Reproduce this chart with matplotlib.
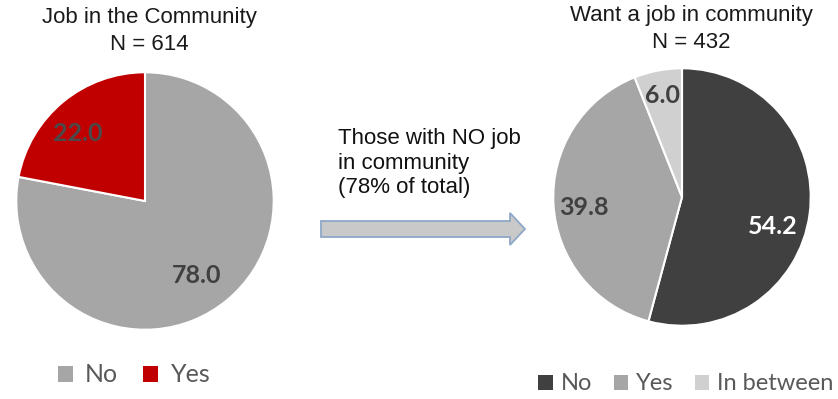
import matplotlib.pyplot as plt
import numpy as np
from matplotlib.patches import FancyArrow

# data
left_labels = ["No", "Yes"]
left_values = [78.0, 22.0]
right_labels = ["No", "Yes", "In between"]
right_values = [54.2, 39.8, 6.0]

# styling
left_colors = ["#A6A6A6", "#C00000"]
left_text_colors = ["#404040", "#4A4A4A"]
left_label_pos = [(0.70, -5), (0.74, 5)]  # (radius, angle offset deg)

right_colors = ["#404040", "#A6A6A6", "#D0D0D0"]
right_text_colors = ["#FFFFFF", "#404040", "#404040"]
right_label_pos = [(0.74, -10.5), (0.77, 3), (0.8, 0)]

W, H = 838, 399
fig = plt.figure(figsize=(W / 100, H / 100), dpi=100)


def px_axes(cx, cy, r):
    return fig.add_axes([(cx - r) / W, (H - cy - r) / H, 2 * r / W, 2 * r / H])


def draw_pie(ax, values, colors, text_colors, label_pos):
    wedges, _ = ax.pie(values, colors=colors, startangle=90, counterclock=False,
                       wedgeprops=dict(edgecolor="white", linewidth=1.5), radius=1)
    for w, v, tc, (d, off) in zip(wedges, values, text_colors, label_pos):
        ang = np.deg2rad((w.theta1 + w.theta2) / 2 + off)
        ax.text(d * np.cos(ang), d * np.sin(ang), f"{v:.1f}", ha="center", va="center",
                fontsize=18, fontweight="bold", color=tc, family="Lato")
    ax.set_xlim(-1.01, 1.01)
    ax.set_ylim(-1.01, 1.01)
    ax.axis("off")
    return wedges


ax1 = px_axes(145, 201, 130)
w1 = draw_pie(ax1, left_values, left_colors, left_text_colors, left_label_pos)
ax2 = px_axes(682, 197, 130)
w2 = draw_pie(ax2, right_values, right_colors, right_text_colors, right_label_pos)

# overlay in pixel coords for titles, arrow, text
ov = fig.add_axes([0, 0, 1, 1])
ov.set_xlim(0, W)
ov.set_ylim(H, 0)
ov.axis("off")
ov.set_zorder(-1)

title_kw = dict(ha="center", va="center", fontsize=16, color="#1A1A1A", family="Liberation Sans")
ov.text(149, 17, "Job in the Community", **title_kw)
ov.text(149, 44, "N = 614", **title_kw)
ov.text(691, 15, "Want a job in community", **title_kw)
ov.text(691, 42, "N = 432", **title_kw)

ov.text(338, 163, "Those with NO job\nin community\n(78% of total)", ha="left", va="center",
        fontsize=16, color="#111111", family="Liberation Sans", linespacing=1.2)

ov.add_patch(FancyArrow(321, 229, 204, 0, width=16, head_width=32, head_length=15,
                        length_includes_head=True, facecolor="#C9C9C9",
                        edgecolor="#8FA8C8", linewidth=1.3))

leg1 = fig.legend(w1, left_labels, loc="center", bbox_to_anchor=(134 / W, 1 - 375 / H),
                  ncol=2, frameon=False, handlelength=0.6, handleheight=0.6,
                  handletextpad=0.5, columnspacing=1.0,
                  prop=dict(family="Lato", size=18))
for t in leg1.get_texts():
    t.set_color("#595959")
for p in leg1.legend_handles:
    p.set_edgecolor("none")

leg2 = fig.legend(w2, right_labels, loc="center", bbox_to_anchor=(686 / W, 1 - 384 / H),
                  ncol=3, frameon=False, handlelength=0.6, handleheight=0.6,
                  handletextpad=0.35, columnspacing=0.9,
                  prop=dict(family="Lato", size=17))
for t in leg2.get_texts():
    t.set_color("#595959")
for p in leg2.legend_handles:
    p.set_edgecolor("none")

fig.savefig("out.png", dpi=100)
